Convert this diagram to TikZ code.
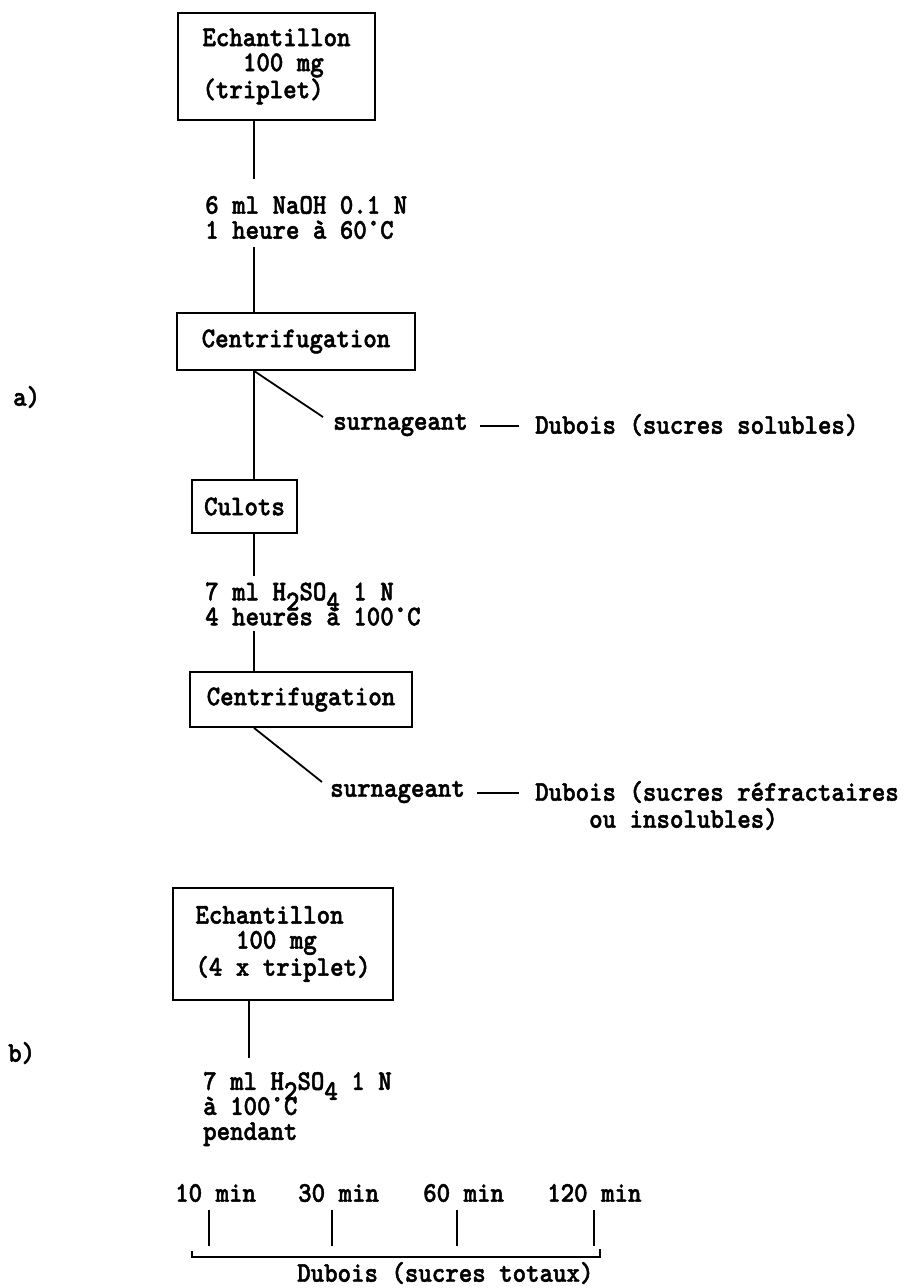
\documentclass[tikz,border=0pt]{standalone}
\usepackage{fontspec}
\newfontfamily\tw{lmmonolt10-bold}[Extension=.otf, FakeStretch=0.9, FakeBold=1.6]
\newcommand\tfnt{\tw\fontsize{28.5}{25}\selectfont}
\newcommand\sbs[1]{\smash{\raisebox{-10pt}{#1}}}
\begin{document}
\begin{tikzpicture}[x=1pt,y=1pt,
  box/.style={draw, line width=1.8pt, inner sep=0pt, align=left, font=\tfnt},
  txt/.style={inner sep=0pt, align=left, anchor=west, font=\tfnt},
  ln/.style={line width=1.8pt},
  dsh/.style={line width=1.4pt}]
\useasboundingbox (0,0) rectangle (909,-1288);
\fill[white] (0,0) rectangle (909,-1288);
\coordinate (sp) at (254,0);
\coordinate (sq) at (249,0);
% part a
\node[box, minimum width=197pt, minimum height=107pt] (e1) at (276.5,-66.5) {Echantillon\\\hspace*{40.5pt}100 mg\\(triplet)};
\node[txt] (naoh) at (205,-217.5) {6 ml NaOH 0.1 N\\1 heure à 60°C};
\node[box, minimum width=238pt, minimum height=57pt] (c1) at (296,-341.5) {Centrifugation};
\node[txt] (s1) at (333,-425) {surnageant};
\node[txt] (d1) at (535,-425) {Dubois (sucres solubles)};
\node[box, minimum width=105pt, minimum height=53pt] (cu) at (244.5,-506.5) {Culots};
\node[txt] (ha) at (205,-604) {7 ml H\sbs{2}SO\sbs{4} 1 N\\4 heures à 100°C};
\node[box, minimum width=222pt, minimum height=55pt] (c2) at (301,-699.5) {Centrifugation};
\node[txt] (s2) at (330,-792) {surnageant};
\node[txt] (d2) at (535,-792) {Dubois (sucres réfractaires};
\node[txt] (d2b) at (589,-819) {ou insolubles)};
\node[txt] (la) at (13,-397) {a)};
% part b
\node[txt] (lb) at (8,-1053) {b)};
\node[box, minimum width=220pt, minimum height=112pt] (e3) at (283,-944) {Echantillon\\\hspace*{40.5pt}100 mg\\(4 x triplet)};
\node[txt] (hb) at (203,-1109) {7 ml H\sbs{2}SO\sbs{4} 1 N\\à 100°C\\pendant};
\node[txt] (t1) at (175,-1193) {10 min};
\node[txt] (t2) at (298,-1193) {30 min};
\node[txt] (t3) at (423,-1193) {60 min};
\node[txt] (t4) at (547,-1193) {120 min};
\node[txt] (dt) at (297,-1273) {Dubois (sucres totaux)};
\coordinate (bl) at (192,-1257);
\coordinate (br) at (600,-1257);
% connectors part a
\draw[ln] (e1.south -| sp) -- ++(0,-58);
\draw[ln] (c1.north -| sp) -- ++(0,65);
\draw[ln] (c1.south -| sp) -- (cu.north -| sp);
\draw[ln] (c1.south -| sp) -- ([xshift=-10pt,yshift=8pt]s1.west);
\draw[dsh] ([xshift=12pt,yshift=-1pt]s1.east) -- ([xshift=-16pt,yshift=-1pt]d1.west);
\draw[ln] (cu.south -| sp) -- ++(0,-42);
\draw[ln] (c2.north -| sp) -- ++(0,40);
\draw[ln] (c2.south -| sp) -- ([xshift=-8pt,yshift=10pt]s2.west);
\draw[dsh] ([xshift=12pt,yshift=-1pt]s2.east) -- ([xshift=-16pt,yshift=-1pt]d2.west);
% connectors part b
\draw[ln] (e3.south -| sq) -- ++(0,-57);
\draw[ln] (t1.south west) ++(34,-8) -- ++(0,-36);
\draw[ln] (t2.south west) ++(34,-8) -- ++(0,-36);
\draw[ln] (t3.south west) ++(34,-8) -- ++(0,-36);
\draw[ln] (t4.south west) ++(47,-8) -- ++(0,-36);
\draw[ln] ([yshift=6pt]bl) -- (bl) -- (br) -- ([yshift=8pt]br);
\end{tikzpicture}
\end{document}
